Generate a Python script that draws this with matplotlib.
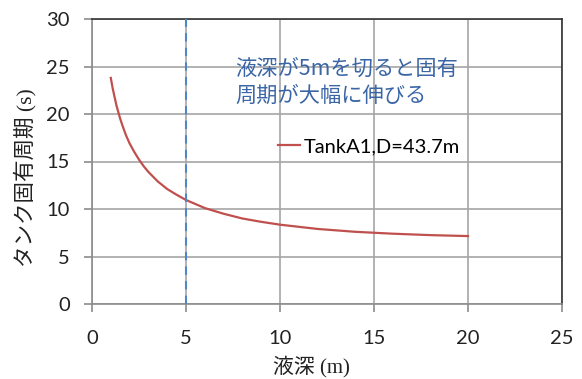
import matplotlib
matplotlib.use("Agg")
import matplotlib.pyplot as plt

# liquid depth (m) vs. tank natural period (s)
depth = [1, 1.1, 1.2, 1.3, 1.4, 1.5, 1.6, 1.8, 2, 2.25, 2.5, 2.75, 3, 3.5, 4, 4.5, 5,
         6, 7, 8, 9, 10, 12, 14, 16, 18, 20]
period = [23.8, 22.7, 21.8, 20.9, 20.2, 19.5, 18.9, 17.8, 16.9, 16.0, 15.2, 14.5, 13.9,
          12.9, 12.1, 11.5, 10.95, 10.1, 9.5, 9.0, 8.65, 8.35, 7.9, 7.6, 7.4, 7.25, 7.15]
series_label = "TankA1,D=43.7m"
threshold_depth = 5
note = "液深が5mを切ると固有\n周期が大幅に伸びる"
x_ticks = [0, 5, 10, 15, 20, 25]
y_ticks = [0, 5, 10, 15, 20, 25, 30]

jp = ["Liberation Serif", "Noto Sans CJK JP"]
tick_font = "Lato"

fig = plt.figure(figsize=(5.82, 3.79), dpi=100)
ax = fig.add_axes([92 / 582, 75 / 379, 470 / 582, 285 / 379])

ax.plot(depth, period, color="#c0504d", lw=1.6, label=series_label, zorder=3)
ax.axvline(threshold_depth, color="#4f86c6", lw=1.5, ls=(0, (4, 3)), zorder=4)

ax.set_xlim(0, 25)
ax.set_ylim(0, 30)
ax.set_xticks(x_ticks)
ax.set_yticks(y_ticks)
ax.grid(True, color="#a6a6a6", lw=1.2)
ax.set_axisbelow(True)

for s in ["left", "bottom"]:
    ax.spines[s].set_color("#8c8c8c")
    ax.spines[s].set_linewidth(1.2)
for s in ["top", "right"]:
    ax.spines[s].set_color("#333333")
    ax.spines[s].set_linewidth(1.2)

ax.tick_params(axis="both", direction="out", length=6, width=1.2, color="#8c8c8c")
ax.tick_params(axis="x", pad=13)
ax.tick_params(axis="y", pad=10)
for lab in ax.get_xticklabels() + ax.get_yticklabels():
    lab.set_fontfamily(tick_font)
    lab.set_fontsize(14.5)
    lab.set_color("#222222")

ax.set_xlabel("液深 (m)", family=jp, fontsize=15, color="#222222")
ax.xaxis.set_label_coords(0.466, -0.18)
ax.set_ylabel("タンク固有周期 (s)", family=jp, fontsize=15.5, color="#222222")
ax.yaxis.set_label_coords(-0.118, 0.442)

ax.text(7.6, 25.9, note, family="Noto Sans CJK JP", fontsize=15.3, color="#3a66a6",
        va="top", ha="left", linespacing=1.3)

ax.legend(loc="center left", bbox_to_anchor=((270 - 92) / 470, (304 - 147) / 285),
          frameon=False, handlelength=1.1, handletextpad=0.2, borderaxespad=0,
          prop={"family": tick_font, "size": 14.5})

fig.savefig("out.png", dpi=100)
